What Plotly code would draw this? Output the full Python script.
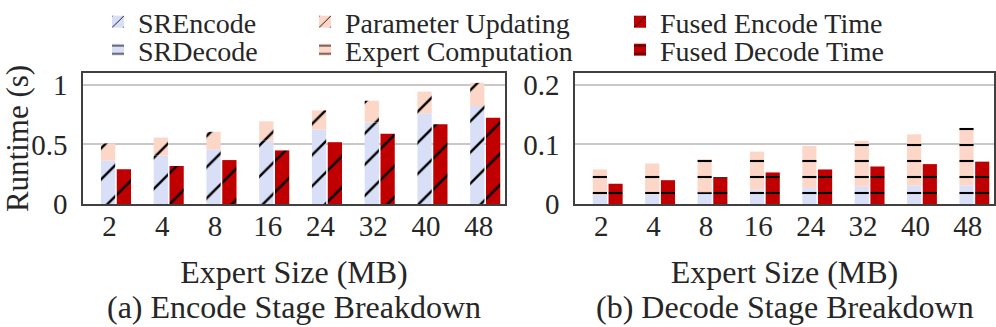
import plotly.graph_objects as go

# Expert sizes (MB) on the x axis
sizes = ["2", "4", "8", "16", "24", "32", "40", "48"]

# (a) encode stage, seconds
sr_encode = [0.364, 0.406, 0.456, 0.531, 0.625, 0.683, 0.761, 0.822]
param_update = [0.144, 0.152, 0.150, 0.163, 0.161, 0.184, 0.183, 0.195]
fused_encode = [0.292, 0.319, 0.369, 0.450, 0.519, 0.589, 0.669, 0.725]

# (b) decode stage, seconds
sr_decode = [0.015, 0.016, 0.019, 0.024, 0.027, 0.029, 0.031, 0.031]
expert_comp = [0.043, 0.052, 0.056, 0.064, 0.070, 0.077, 0.086, 0.097]
fused_decode = [0.034, 0.040, 0.045, 0.053, 0.058, 0.063, 0.067, 0.071]

FONT = "Liberation Serif"
TEXT = "#262626"
BLUE = "#dadff8"
PEACH = "#fcd6c7"
RED = "#c00000"

BAR_W = 0.27
SR_OFF = -0.16
FUSED_OFF = 0.14


def _pattern(shape, bg):
    if shape == "/":
        return dict(shape="/", bgcolor=bg, fgcolor="black", fgopacity=1,
                    size=22, solidity=0.11, fillmode="overlay")
    return dict(shape="-", bgcolor=bg, fgcolor="black", fgopacity=1,
                size=16, solidity=0.13, fillmode="overlay")


def _bar(name, y, base, offset, color, shape, xaxis, yaxis, legend):
    return go.Bar(
        x=sizes, y=y, base=base, name=name,
        offset=offset, width=BAR_W,
        marker=dict(color=color, line=dict(width=0), pattern=_pattern(shape, color)),
        xaxis=xaxis, yaxis=yaxis, legend=legend,
    )


fig = go.Figure()

# encode panel
fig.add_trace(_bar("SREncode", sr_encode, None, SR_OFF, BLUE, "/", "x", "y", "legend"))
fig.add_trace(_bar("Parameter Updating", param_update, sr_encode, SR_OFF, PEACH, "/", "x", "y", "legend3"))
fig.add_trace(_bar("Fused Encode Time", fused_encode, None, FUSED_OFF, RED, "/", "x", "y", "legend5"))

# decode panel
fig.add_trace(_bar("SRDecode", sr_decode, None, SR_OFF, BLUE, "-", "x2", "y2", "legend2"))
fig.add_trace(_bar("Expert Computation", expert_comp, sr_decode, SR_OFF, PEACH, "-", "x2", "y2", "legend4"))
fig.add_trace(_bar("Fused Decode Time", fused_decode, None, FUSED_OFF, RED, "-", "x2", "y2", "legend6"))

axis_common = dict(
    showline=True, mirror=True, linecolor="#404040", linewidth=1.5,
    tickfont=dict(family=FONT, size=29, color=TEXT),
)
x_common = dict(axis_common, type="category", range=[-0.5, 7.5], ticks="", showgrid=False,
                ticklabelstandoff=-5,
                title=dict(text="Expert Size (MB)", font=dict(family=FONT, size=32, color=TEXT), standoff=20))
y_common = dict(axis_common, ticks="", showgrid=True, gridcolor="#c8c8c8", gridwidth=2,
                zeroline=False, ticklabelstandoff=8)

plot_h = 327 - 73 - 123
plot_w = 996 - 83 - 2


def _legend(px, py):
    return dict(
        x=(px - 83) / plot_w, y=(204 - py) / plot_h,
        xanchor="left", yanchor="middle",
        orientation="v", bgcolor="rgba(0,0,0,0)",
        font=dict(family=FONT, size=28, color=TEXT),
        itemwidth=30, itemclick=False,
    )


fig.update_layout(
    width=996, height=327,
    margin=dict(l=83, r=2, t=73, b=123, autoexpand=False),
    paper_bgcolor="white", plot_bgcolor="white",
    barmode="overlay",
    showlegend=True,
    font=dict(family=FONT, color=TEXT),
    xaxis=dict(x_common, domain=[0, (505 - 83) / plot_w], anchor="y"),
    xaxis2=dict(x_common, domain=[(575 - 83) / plot_w, 1], anchor="y2"),
    yaxis=dict(y_common, range=[0, 1.1], dtick=0.5, anchor="x",
               title=dict(text="Runtime (s)", font=dict(family=FONT, size=31, color=TEXT), standoff=2)),
    yaxis2=dict(y_common, range=[0, 0.22], dtick=0.1, anchor="x2"),
    legend=_legend(98, 22),
    legend2=_legend(98, 50),
    legend3=_legend(305, 22),
    legend4=_legend(305, 50),
    legend5=_legend(620, 22),
    legend6=_legend(620, 50),
)

for text, xc in [("(a) Encode Stage Breakdown", 294), ("(b) Decode Stage Breakdown", 785)]:
    fig.add_annotation(
        text=text, x=(xc - 83) / plot_w, y=(204 - 307) / plot_h,
        xref="paper", yref="paper", xanchor="center", yanchor="middle",
        showarrow=False, font=dict(family=FONT, size=32, color=TEXT),
    )

# drop the default 8px page margin so the figure sits at the window origin
fig.write_html("out.html", config={"displayModeBar": False},
               post_script="document.body.style.margin='0';")
